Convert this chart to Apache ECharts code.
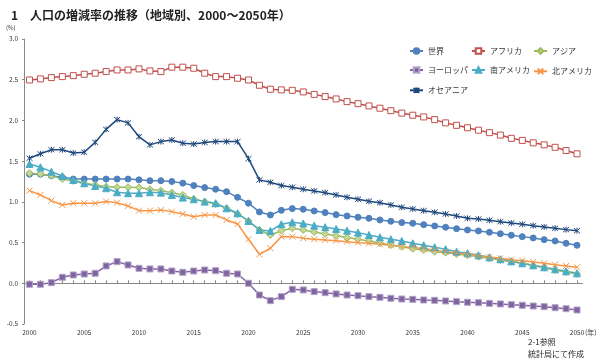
<!DOCTYPE html>
<html>
<head>
<meta charset="utf-8">
<script src="https://cdn.jsdelivr.net/npm/echarts@6/dist/echarts.min.js"></script>
<style>
html,body{margin:0;padding:0;background:#fff;}
#c{width:600px;height:362px;}
</style>
</head>
<body>
<div id="c"></div>
<script>
var years = [];
for (var y = 2000; y <= 2050; y++) years.push(String(y));

var world = [1.34,1.34,1.32,1.30,1.28,1.28,1.28,1.28,1.28,1.28,1.27,1.26,1.26,1.25,1.23,1.20,1.175,1.155,1.125,1.056,0.983,0.876,0.839,0.896,0.917,
  0.909,0.888,0.868,0.843,0.827,0.811,0.798,0.778,0.762,0.745,0.737,0.72,0.704,0.688,0.671,0.655,0.643,0.627,0.609,0.59,0.573,0.557,0.536,0.52,0.491,0.467];
var africa = [2.497,2.51,2.526,2.538,2.55,2.567,2.58,2.60,2.62,2.62,2.633,2.608,2.60,2.654,2.654,2.641,2.58,2.538,2.538,2.518,2.497,2.432,2.383,2.375,2.37,
  2.35,2.32,2.293,2.264,2.231,2.206,2.178,2.15,2.12,2.09,2.064,2.043,2.01,1.97,1.94,1.91,1.88,1.85,1.82,1.78,1.755,1.725,1.70,1.67,1.63,1.59];
var asia = [1.351,1.343,1.322,1.281,1.257,1.228,1.208,1.187,1.179,1.179,1.175,1.155,1.138,1.113,1.085,1.036,1.003,0.974,0.921,0.851,0.765,0.655,0.593,0.646,0.676,
  0.655,0.63,0.606,0.585,0.561,0.541,0.52,0.495,0.47,0.45,0.425,0.409,0.388,0.376,0.36,0.344,0.327,0.307,0.286,0.265,0.246,0.216,0.192,0.163,0.139,0.114];
var europe = [-0.012,-0.012,0.008,0.074,0.102,0.114,0.123,0.213,0.266,0.225,0.184,0.176,0.176,0.151,0.135,0.151,0.163,0.155,0.123,0.114,0.0,-0.144,-0.213,-0.164,-0.074,
  -0.082,-0.102,-0.115,-0.131,-0.144,-0.152,-0.164,-0.172,-0.184,-0.193,-0.197,-0.205,-0.209,-0.217,-0.226,-0.233,-0.238,-0.246,-0.254,-0.263,-0.27,-0.279,-0.287,-0.30,-0.312,-0.328];
var southAmerica = [1.466,1.425,1.371,1.318,1.269,1.228,1.195,1.167,1.118,1.106,1.106,1.118,1.113,1.085,1.052,1.032,1.003,0.983,0.921,0.86,0.765,0.655,0.643,0.725,0.749,
  0.735,0.708,0.688,0.667,0.646,0.622,0.593,0.565,0.541,0.52,0.491,0.467,0.442,0.418,0.388,0.369,0.344,0.319,0.295,0.27,0.246,0.221,0.197,0.172,0.147,0.123];
var northAmerica = [1.138,1.085,1.015,0.962,0.983,0.983,0.983,1.003,0.99,0.95,0.892,0.892,0.90,0.88,0.851,0.818,0.839,0.839,0.778,0.729,0.541,0.356,0.43,0.573,0.573,
  0.553,0.541,0.532,0.523,0.511,0.499,0.491,0.479,0.467,0.45,0.442,0.425,0.409,0.388,0.372,0.356,0.339,0.323,0.307,0.29,0.278,0.262,0.246,0.229,0.213,0.197];
var oceania = [1.536,1.59,1.64,1.64,1.60,1.61,1.73,1.89,2.01,1.97,1.80,1.70,1.74,1.76,1.72,1.71,1.73,1.74,1.74,1.74,1.53,1.27,1.24,1.20,1.18,
  1.155,1.134,1.113,1.085,1.056,1.032,1.007,0.99,0.962,0.934,0.913,0.892,0.872,0.851,0.827,0.798,0.79,0.774,0.757,0.741,0.725,0.708,0.692,0.676,0.659,0.646];

var FONT = '"Noto Sans CJK JP", "Noto Sans", sans-serif';

var xPath = 'path://M0,0L10,10M10,0L0,10';
var starPath = 'path://M5,0L5,10M0.8,0.8L9.2,9.2M9.2,0.8L0.8,9.2';

function mk(name, data, color, symbol, size, fill, border) {
  return {
    name: name, type: 'line', data: data,
    symbol: symbol, symbolSize: size,
    lineStyle: {color: color, width: 1.5},
    itemStyle: {color: fill, borderColor: border || color, borderWidth: 1},
    emphasis: {disabled: true},
    animation: false
  };
}

var chart = echarts.init(document.getElementById('c'), null, {renderer: 'canvas'});
var legendBase = {
  orient: 'vertical', itemWidth: 13, itemHeight: 7, itemGap: 11,
  textStyle: {fontSize: 8, color: '#333', fontFamily: FONT},
  selectedMode: false
};
chart.setOption({
  backgroundColor: '#fff',
  animation: false,
  textStyle: {fontFamily: FONT},
  title: {
    text: '1　人口の増減率の推移（地域別、2000～2050年）',
    left: 6, top: 4,
    textStyle: {fontSize: 12, fontWeight: 'bold', color: '#222', fontFamily: FONT}
  },
  graphic: [
    {type: 'text', left: 6, top: 25, style: {text: '(%)', fontSize: 6, fill: '#333', fontFamily: FONT}},
    {type: 'text', left: 585, top: 329, style: {text: '(年)', fontSize: 7, fill: '#333', fontFamily: FONT}},
    {type: 'text', left: 528, top: 338, style: {text: '2-1参照', fontSize: 8, fill: '#222', fontFamily: FONT}},
    {type: 'text', left: 528, top: 350, style: {text: '統計局にて作成', fontSize: 8, fill: '#222', fontFamily: FONT}}
  ],
  legend: [
    Object.assign({}, legendBase, {left: 404, top: 42, data: ['世界','ヨーロッパ','オセアニア']}),
    Object.assign({}, legendBase, {left: 466, top: 42, data: ['アフリカ','南アメリカ']}),
    Object.assign({}, legendBase, {left: 528, top: 42, data: ['アジア','北アメリカ']})
  ],
  grid: {left: 24, right: 17.5, top: 39, bottom: 38, containLabel: false},
  xAxis: {
    type: 'category', data: years, boundaryGap: true,
    axisLine: {lineStyle: {color: '#888', width: 1}},
    axisTick: {show: true, inside: true, length: 3, interval: 0, alignWithLabel: true, lineStyle: {color: '#888'}},
    axisLabel: {interval: 4, fontSize: 6.5, color: '#333', margin: 5, fontFamily: FONT}
  },
  yAxis: {
    type: 'value', min: -0.5, max: 3.0, interval: 0.5,
    axisLine: {show: true, lineStyle: {color: '#888', width: 1}},
    axisTick: {show: true, length: 2, lineStyle: {color: '#888'}},
    splitLine: {show: false},
    axisLabel: {fontSize: 6.5, color: '#333', margin: 6, formatter: function (v) { return v.toFixed(1); }, fontFamily: FONT}
  },
  series: [
    mk('世界', world, '#4F81BD', 'circle', 6, '#4F81BD'),
    mk('アフリカ', africa, '#C0504D', 'rect', 6, '#ffffff'),
    mk('アジア', asia, '#9BBB59', 'diamond', 7, '#C3D69B'),
    mk('ヨーロッパ', europe, '#8064A2', 'rect', 6, '#8064A2', '#B3A2C7'),
    mk('南アメリカ', southAmerica, '#4BACC6', 'triangle', 7, '#4BACC6'),
    mk('北アメリカ', northAmerica, '#F79646', xPath, 6, 'none'),
    mk('オセアニア', oceania, '#1F497D', starPath, 6, 'none')
  ]
});
</script>
</body>
</html>
